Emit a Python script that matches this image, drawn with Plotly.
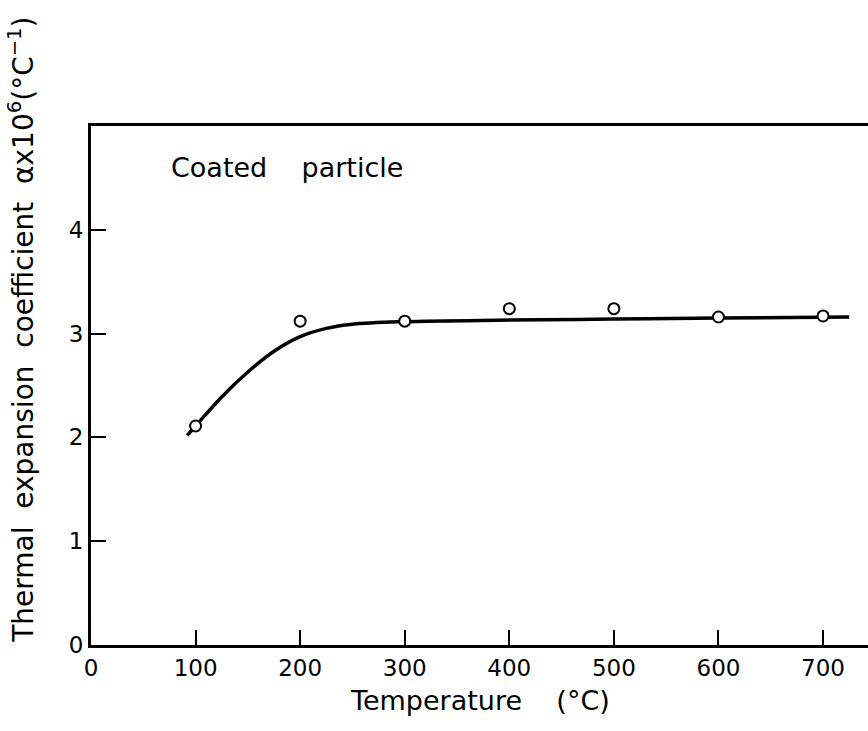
import plotly.graph_objects as go

# measured points (open circles)
temp_pts = [100, 200, 300, 400, 500, 600, 700]
alpha_pts = [2.11, 3.12, 3.12, 3.24, 3.24, 3.16, 3.17]

# fitted curve
temp_curve = [92, 100, 125, 150, 175, 200, 225, 250, 300, 400, 500, 600, 725]
alpha_curve = [2.02, 2.11, 2.39, 2.63, 2.83, 2.97, 3.05, 3.09, 3.115, 3.13, 3.14, 3.15, 3.16]

x_ticks = [0, 100, 200, 300, 400, 500, 600, 700]
y_ticks = [0, 1, 2, 3, 4]

FONT = "DejaVu Sans"

fig = go.Figure()
fig.add_trace(go.Scatter(x=temp_curve, y=alpha_curve, mode="lines",
                         line=dict(color="black", width=3.5, shape="spline", smoothing=1.0),
                         hoverinfo="skip", showlegend=False))
fig.add_trace(go.Scatter(x=temp_pts, y=alpha_pts, mode="markers",
                         marker=dict(symbol="circle", size=11, color="white",
                                     line=dict(color="black", width=2)),
                         showlegend=False))

fig.update_layout(
    width=868, height=731,
    margin=dict(l=91, r=0, t=126, b=86),
    paper_bgcolor="white", plot_bgcolor="white",
    font=dict(family=FONT, size=23, color="black"),
    xaxis=dict(range=[0, 743], tickvals=x_ticks, ticks="inside", ticklen=15, tickwidth=2,
               tickcolor="black", showline=True, linewidth=3, linecolor="black",
               mirror=True, showgrid=False, zeroline=False,
               tickfont=dict(family=FONT, size=23)),
    yaxis=dict(range=[0, 5], tickvals=y_ticks, ticks="inside", ticklen=15, tickwidth=2,
               tickcolor="black", showline=True, linewidth=3, linecolor="black",
               mirror=False, showgrid=False, zeroline=False,
               tickfont=dict(family=FONT, size=23)),
    annotations=[
        dict(text="Coated    particle", xref="paper", yref="paper", x=0.1, y=0.921,
             xanchor="left", yanchor="middle", showarrow=False,
             font=dict(family=FONT, size=27)),
        dict(text="Temperature    (°C)", xref="paper", yref="paper", x=0.5, y=-0.106,
             xanchor="center", yanchor="middle", showarrow=False,
             font=dict(family=FONT, size=27)),
        dict(text="Thermal  expansion  coefficient  αx10<sup>6</sup>(°C<sup>−1</sup>)",
             xref="paper", yref="paper", x=-0.089, y=0.607, xanchor="center",
             yanchor="middle", textangle=-90, showarrow=False,
             font=dict(family=FONT, size=28)),
    ],
)

fig.write_html("out.html")
